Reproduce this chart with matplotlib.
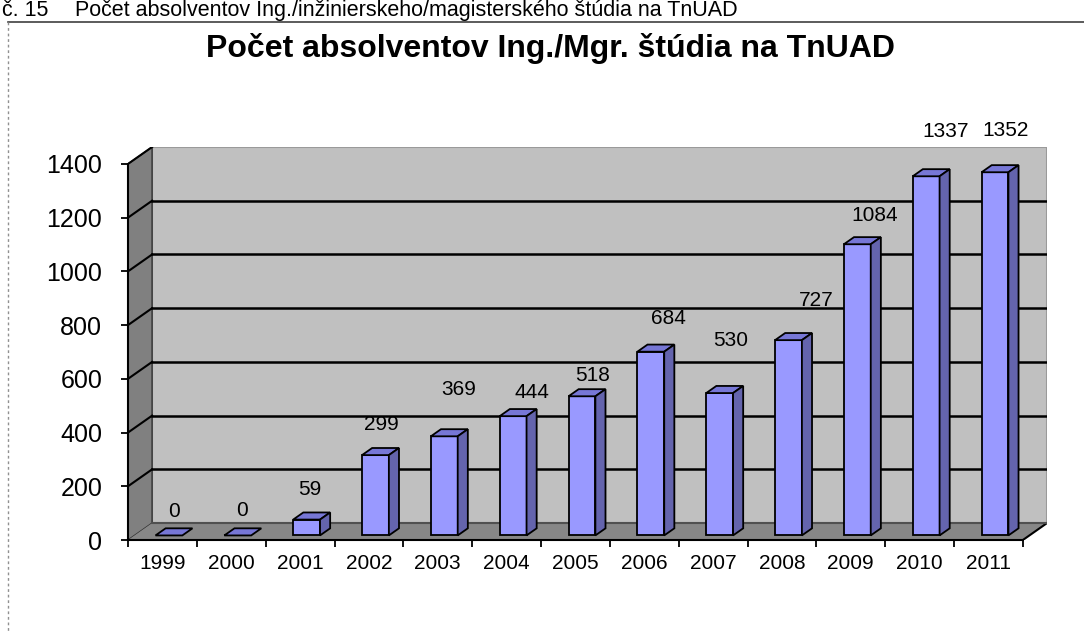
import matplotlib.pyplot as plt
import matplotlib.lines as mlines

# graduates per year (Ing./Mgr.)
years = ['1999', '2000', '2001', '2002', '2003', '2004', '2005',
         '2006', '2007', '2008', '2009', '2010', '2011']
graduates = [0, 0, 59, 299, 369, 444, 518, 684, 530, 727, 1084, 1337, 1352]
y_ticks = [0, 200, 400, 600, 800, 1000, 1200, 1400]

# where excel dropped the value labels, in px from the bar top
label_dx = [5, 4, 3, 6, 14, 19, 11, 18, 11, 28, 17, 19, 11]
label_dy = [24, 25, 30, 31, 47, 24, 21, 33, 53, 40, 29, 45, 42]

plt.rcParams['font.family'] = ['Liberation Sans', 'DejaVu Sans']

W, H = 1084, 633
fig = plt.figure(figsize=(W / 100, H / 100), dpi=100)

# fake 3d depth of the walls, in data units
DX = 0.35
DY = 63
YMAX = 1400
n = len(years)

ax = fig.add_axes([128 / W, (H - 540) / H, 919 / W, 393 / H])
ax.set_xlim(-0.5, n - 0.5 + DX)
ax.set_ylim(0, YMAX + DY)
ax.patch.set_visible(False)

# walls and floor
x0, x1 = -0.5, n - 0.5
ax.fill([x0 + DX, x1 + DX, x1 + DX, x0 + DX], [DY, DY, YMAX + DY, YMAX + DY],
        facecolor='#c0c0c0', edgecolor='#9a9a9a', lw=1.5, zorder=1)
ax.fill([x0, x0 + DX, x0 + DX, x0], [0, DY, YMAX + DY, YMAX],
        facecolor='#808080', edgecolor='#303030', lw=1, zorder=1)
ax.fill([x0, x1, x1 + DX, x0 + DX], [0, 0, DY, DY],
        facecolor='#878787', edgecolor='none', zorder=1)
ax.plot([x1, x1 + DX], [0, DY], color='black', lw=1.5, zorder=2)
ax.plot([x0 + DX, x1 + DX], [DY, DY], color='#505050', lw=1.5, zorder=2)

# gridlines on back and side wall
for v in y_ticks[1:]:
    if v < YMAX:
        ax.plot([x0 + DX, x1 + DX], [v + DY, v + DY], color='black', lw=1.8, zorder=2)
    ax.plot([x0, x0 + DX], [v, v + DY], color='black', lw=1.5, zorder=2)

# bars: front face through ax.bar, top and side as polygons
f0, f1 = 0.27, 0.42
bw = 0.39
front = '#9999ff'
top_c = '#7777d6'
side_c = '#6464ad'
xs = [i + f0 * DX for i in range(n)]
base = f0 * DY
ax.bar(xs, graduates, width=bw, bottom=base, color=front,
       edgecolor='black', lw=1.3, zorder=3)
bdx, bdy = f1 * DX, f1 * DY
for x, v in zip(xs, graduates):
    l, r = x - bw / 2, x + bw / 2
    t = v + base
    ax.fill([l, r, r + bdx, l + bdx], [t, t, t + bdy, t + bdy],
            facecolor=top_c, edgecolor='black', lw=1.3, zorder=3)
    if v > 0:
        ax.fill([r, r + bdx, r + bdx, r], [base, base + bdy, t + bdy, t],
                facecolor=side_c, edgecolor='black', lw=1.3, zorder=3)

for x, v, ldx, ldy in zip(xs, graduates, label_dx, label_dy):
    ax.annotate(str(v), (x, v + base), xytext=(ldx * 0.72, ldy * 0.72),
                textcoords='offset points', ha='center', va='center',
                fontsize=15, zorder=5)

# axes
for s in ['top', 'right']:
    ax.spines[s].set_visible(False)
ax.spines['left'].set_bounds(0, YMAX)
ax.spines['bottom'].set_bounds(x0, x1)
for s in ['left', 'bottom']:
    ax.spines[s].set_linewidth(1.5)
    ax.spines[s].set_zorder(4)
ax.set_yticks(y_ticks)
ax.set_yticklabels([str(v) for v in y_ticks], fontsize=18)
ax.tick_params(axis='y', length=5, width=1.3, pad=13.5)
ax.set_xticks([i - 0.5 for i in range(n + 1)])
ax.set_xticklabels([])
ax.set_xticks(range(n), minor=True)
ax.set_xticklabels(years, minor=True, fontsize=15)
ax.tick_params(axis='x', which='major', length=5, width=1.3)
ax.tick_params(axis='x', which='minor', length=0, pad=10)

fig.text(550 / W, 1 - 48 / H, 'Počet absolventov Ing./Mgr. štúdia na TnUAD',
         ha='center', va='center', fontsize=23, fontweight='bold')

# caption of the document above the chart
fig.text(2 / W, 1 - 16 / H, 'č. 15', ha='left', va='baseline', fontsize=15.5)
fig.text(75 / W, 1 - 16 / H,
         'Počet absolventov Ing./inžinierskeho/magisterského štúdia na TnUAD',
         ha='left', va='baseline', fontsize=15.5)

# chart area border
fig.add_artist(mlines.Line2D([8 / W, 1.01], [1 - 22 / H, 1 - 22 / H],
                             color='#404040', lw=1.2))
fig.add_artist(mlines.Line2D([8 / W, 8 / W], [1 - 22 / H, -0.01],
                             color='#909090', lw=1, ls=(0, (2, 2))))

fig.savefig('out.png', dpi=100)
